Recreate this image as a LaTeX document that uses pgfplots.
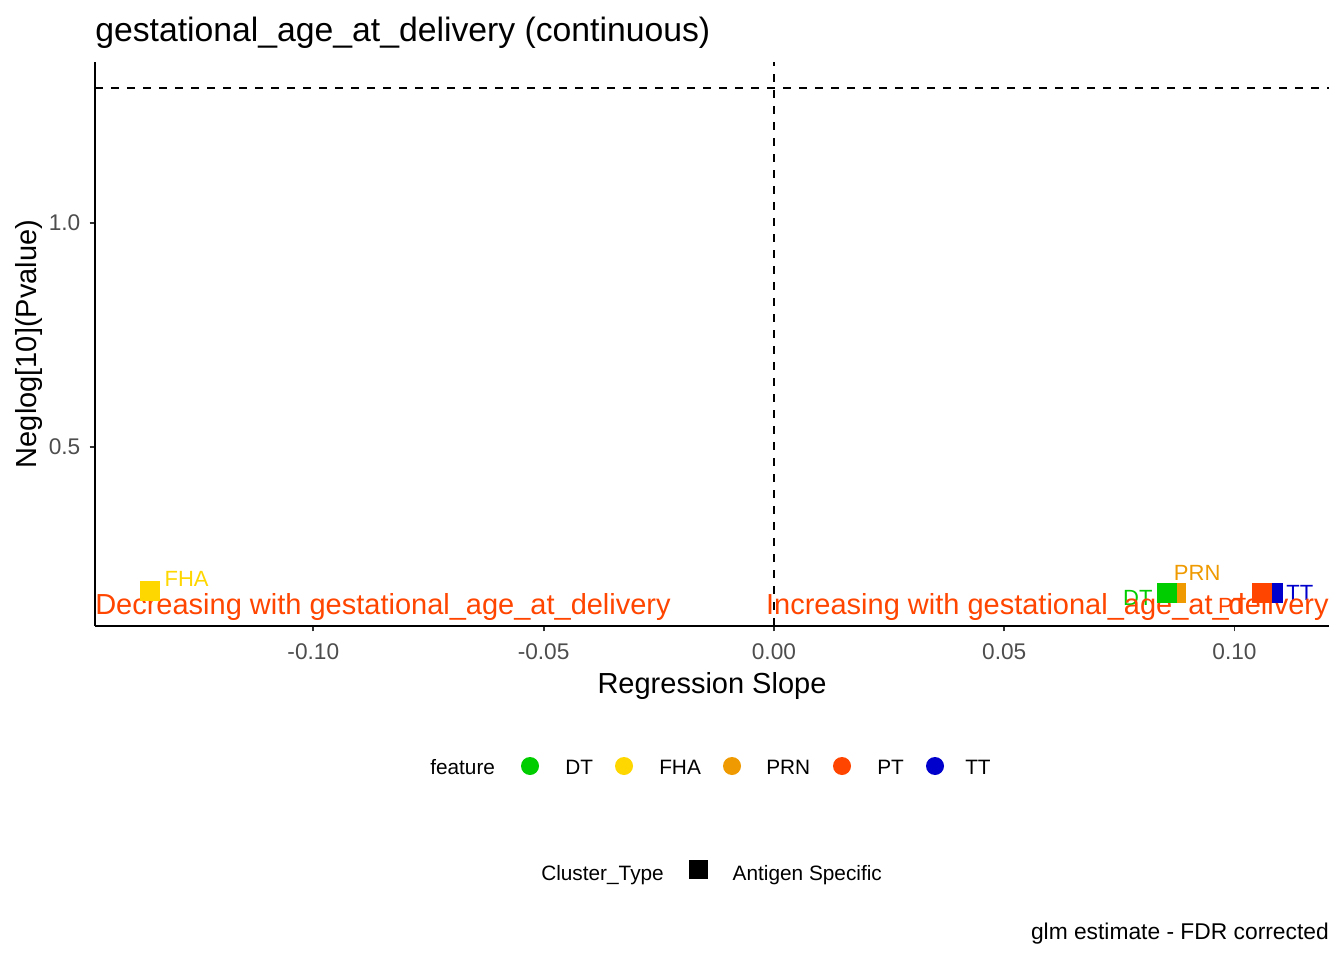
\documentclass[border=0pt]{standalone}
\usepackage{pgfplots}
\pgfplotsset{compat=1.18}
\usepackage{fontspec}
\setmainfont{Liberation Sans}
\definecolor{cDT}{HTML}{00CD00}
\definecolor{cFHA}{HTML}{FFD700}
\definecolor{cPRN}{HTML}{EE9A00}
\definecolor{cPT}{HTML}{FF4500}
\definecolor{cTT}{HTML}{0000CD}
\definecolor{tickgray}{HTML}{4D4D4D}
\definecolor{tickline}{HTML}{333333}
\newcommand{\fs}[1]{\fontsize{#1}{#1}\selectfont}
\begin{document}
\begin{tikzpicture}
\path[use as bounding box] (-71.25pt,-250.5pt) rectangle (936.75pt,469.5pt);
\begin{axis}[
  at={(0,0)}, anchor=south west,
  scale only axis, width=925.5pt, height=423pt,
  xmin=-0.1474, xmax=0.12052, ymin=0.1004, ymax=1.3594,
  axis x line=bottom, axis y line=left,
  axis line style={-, line width=1.5pt, black},
  xtick={-0.10,-0.05,0,0.05,0.10},
  xticklabels={-0.10,-0.05,0.00,0.05,0.10},
  ytick={0.5,1.0}, yticklabels={0.5,1.0},
  tick align=outside, major tick length=4.1pt,
  tick style={line width=1.4pt, tickline},
  xticklabel style={font=\fs{17}, text=tickgray, inner sep=0pt, anchor=north, yshift=-9pt},
  yticklabel style={font=\fs{17}, text=tickgray, inner sep=0pt, anchor=east, xshift=-6.75pt},
  clip=false,
]
\addplot[line width=1.2pt, dash pattern=on 6pt off 6pt, black] coordinates {(0,0.1004) (0,1.3594)};
\addplot[line width=1.2pt, dash pattern=on 6pt off 6pt, black] coordinates {(-0.1474,1.30103) (0.12052,1.30103)};
% points
\addplot[only marks, mark=square*, mark size=7.125pt, color=cPRN, mark options={line width=0pt, draw=cPRN, fill=cPRN}] coordinates {(0.0872,0.174)};
\addplot[only marks, mark=square*, mark size=7.125pt, color=cDT, mark options={line width=0pt, draw=cDT, fill=cDT}] coordinates {(0.0853,0.174)};
\addplot[only marks, mark=square*, mark size=7.125pt, color=cTT, mark options={line width=0pt, draw=cTT, fill=cTT}] coordinates {(0.1083,0.174)};
\addplot[only marks, mark=square*, mark size=7.125pt, color=cPT, mark options={line width=0pt, draw=cPT, fill=cPT}] coordinates {(0.1060,0.174)};
\addplot[only marks, mark=square*, mark size=7.125pt, color=cFHA, mark options={line width=0pt, draw=cFHA, fill=cFHA}] coordinates {(-0.1355,0.179)};
% point labels
\node[font=\fs{16.5}, text=cFHA, inner sep=0pt] at (axis cs:-0.1275,0.2054) {FHA};
\node[font=\fs{16.5}, text=cPRN, inner sep=0pt] at (axis cs:0.0919,0.2188) {PRN};
\node[font=\fs{16.5}, text=cDT, inner sep=0pt] at (axis cs:0.0790,0.1629) {DT};
\node[font=\fs{16.5}, text=cPT, inner sep=0pt] at (axis cs:0.0995,0.145) {PT};
\node[font=\fs{16.5}, text=cTT, inner sep=0pt] at (axis cs:0.1142,0.174) {TT};
% annotations
\node[font=\fs{21.75}, text=cPT, inner sep=0pt, anchor=base west] at (axis cs:-0.1474,0.125) {Decreasing with gestational\_age\_at\_delivery};
\node[font=\fs{21.75}, text=cPT, inner sep=0pt, anchor=base east] at (axis cs:0.12052,0.125) {Increasing with gestational\_age\_at\_delivery};
\end{axis}
% title and axis titles
\node[font=\fs{25.3}, inner sep=0pt, anchor=base west] at (0pt,438pt) {gestational\_age\_at\_delivery (continuous)};
\node[font=\fs{21.75}, inner sep=0pt, anchor=base] at (462.75pt,-50.25pt) {Regression Slope};
\node[font=\fs{21.75}, inner sep=0pt, anchor=base, rotate=90] at (-43.5pt,211.5pt) {Neglog[10](Pvalue)};
% legend 1
\node[font=\fs{15.6}, inner sep=0pt, anchor=base west] at (251.25pt,-111pt) {feature};
\fill[cDT] (326.25pt,-105pt) circle (6.75pt);
\node[font=\fs{15.6}, inner sep=0pt, anchor=base west] at (352.5pt,-111pt) {DT};
\fill[cFHA] (396.75pt,-105pt) circle (6.75pt);
\node[font=\fs{15.6}, inner sep=0pt, anchor=base west] at (423pt,-111pt) {FHA};
\fill[cPRN] (477.75pt,-105pt) circle (6.75pt);
\node[font=\fs{15.6}, inner sep=0pt, anchor=base west] at (503.25pt,-111pt) {PRN};
\fill[cPT] (560.25pt,-105pt) circle (6.75pt);
\node[font=\fs{15.6}, inner sep=0pt, anchor=base west] at (586.5pt,-111pt) {PT};
\fill[cTT] (630pt,-105pt) circle (6.75pt);
\node[font=\fs{15.6}, inner sep=0pt, anchor=base west] at (652.5pt,-111pt) {TT};
% legend 2
\node[font=\fs{15.6}, inner sep=0pt, anchor=base west] at (334.5pt,-190.5pt) {Cluster\_Type};
\fill[black] (445.5pt,-189.7pt) rectangle (459.75pt,-175.45pt);
\node[font=\fs{15.6}, inner sep=0pt, anchor=base west] at (478.1pt,-190.5pt) {Antigen Specific};
% caption
\node[font=\fs{17.1}, inner sep=0pt, anchor=base east] at (925.5pt,-234.75pt) {glm estimate - FDR corrected};
\end{tikzpicture}
\end{document}
